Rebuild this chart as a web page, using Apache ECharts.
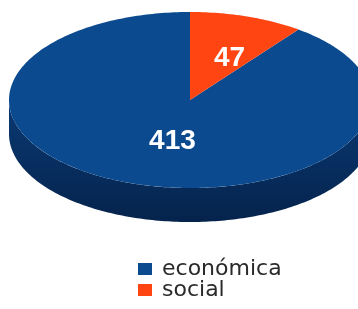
<!DOCTYPE html>
<html>
<head>
<meta charset="utf-8">
<script src="https://cdn.jsdelivr.net/npm/echarts@6/dist/echarts.min.js"></script>
<style>
html,body{margin:0;padding:0;background:#fff;}
#c{width:358px;height:309px;}
</style>
</head>
<body>
<div id="c"></div>
<script>
const categories = ['económica', 'social'];
const values = [413, 47];

const topColors = ['#0b4a8e', '#ff4512'];
const sideTop = ['#0a3a74', '#c8350e'];
const sideBottom = ['#05234c', '#a02a0a'];

const total = values.reduce((s, v) => s + v, 0);
const starts = [];
let acc = 0;
values.forEach(v => { starts.push(acc / total * 360); acc += v; });

const CX = 190, CY = 100, RA = 181, RB = 88, DEPTH = 34;
function pt(deg, dy, f) {
  const r = deg * Math.PI / 180;
  f = f == null ? 1 : f;
  return [CX + RA * f * Math.sin(r), CY - RB * f * Math.cos(r) + dy];
}
function arc(d0, d1, dy) {
  const pts = [];
  const n = Math.max(2, Math.ceil(Math.abs(d1 - d0)));
  for (let k = 0; k <= n; k++) pts.push(pt(d0 + (d1 - d0) * k / n, dy));
  return pts;
}

const chart = echarts.init(document.getElementById('c'), null, {renderer: 'canvas'});
const series = categories.map((name, i) => ({
  type: 'custom',
  name: name,
  coordinateSystem: 'none',
  data: [[values[i]]],
  itemStyle: {color: topColors[i]},
  animation: false,
  renderItem: function (params, api) {
    const v = api.value(0);
    // counter-clockwise from 12 o'clock
    const a0 = 360 - (starts[i] + v / total * 360);
    const a1 = 360 - starts[i];
    const children = [];
    const s0 = Math.max(a0, 90), s1 = Math.min(a1, 270);
    if (s1 > s0) {
      const upper = arc(s0, s1, 0);
      const lower = arc(s1, s0, DEPTH);
      children.push({
        type: 'polygon',
        shape: {points: upper.concat(lower)},
        style: {
          fill: new echarts.graphic.LinearGradient(0, 0, 0, 1, [
            {offset: 0, color: sideTop[i]},
            {offset: 1, color: sideBottom[i]}
          ])
        }
      });
    }
    const topPts = [[CX, CY]].concat(arc(a0, a1, 0));
    children.push({
      type: 'polygon',
      shape: {points: topPts},
      style: {fill: topColors[i]}
    });
    const mid = (a0 + a1) / 2;
    const lp = pt(mid, 0, 0.5);
    children.push({
      type: 'text',
      style: {
        text: String(v),
        x: lp[0] + 11,
        y: lp[1],
        fill: '#ffffff',
        font: 'bold 28px "Liberation Sans", Arial, sans-serif',
        align: 'center',
        verticalAlign: 'middle'
      }
    });
    return {type: 'group', children: children};
  }
}));

const legendBase = {
  orient: 'vertical',
  left: 133,
  icon: 'rect',
  itemWidth: 14,
  itemHeight: 12,
  itemGap: 0,
  textStyle: {
    fontFamily: 'DejaVu Sans',
    fontSize: 22,
    lineHeight: 21,
    color: '#2a2a2a',
    padding: [0, 0, 0, 5]
  }
};

chart.setOption({
  animation: false,
  color: topColors,
  legend: categories.map((c, i) => Object.assign({}, legendBase, {data: [c], top: 253 + i * 21})),
  series: series
});
</script>
</body>
</html>
